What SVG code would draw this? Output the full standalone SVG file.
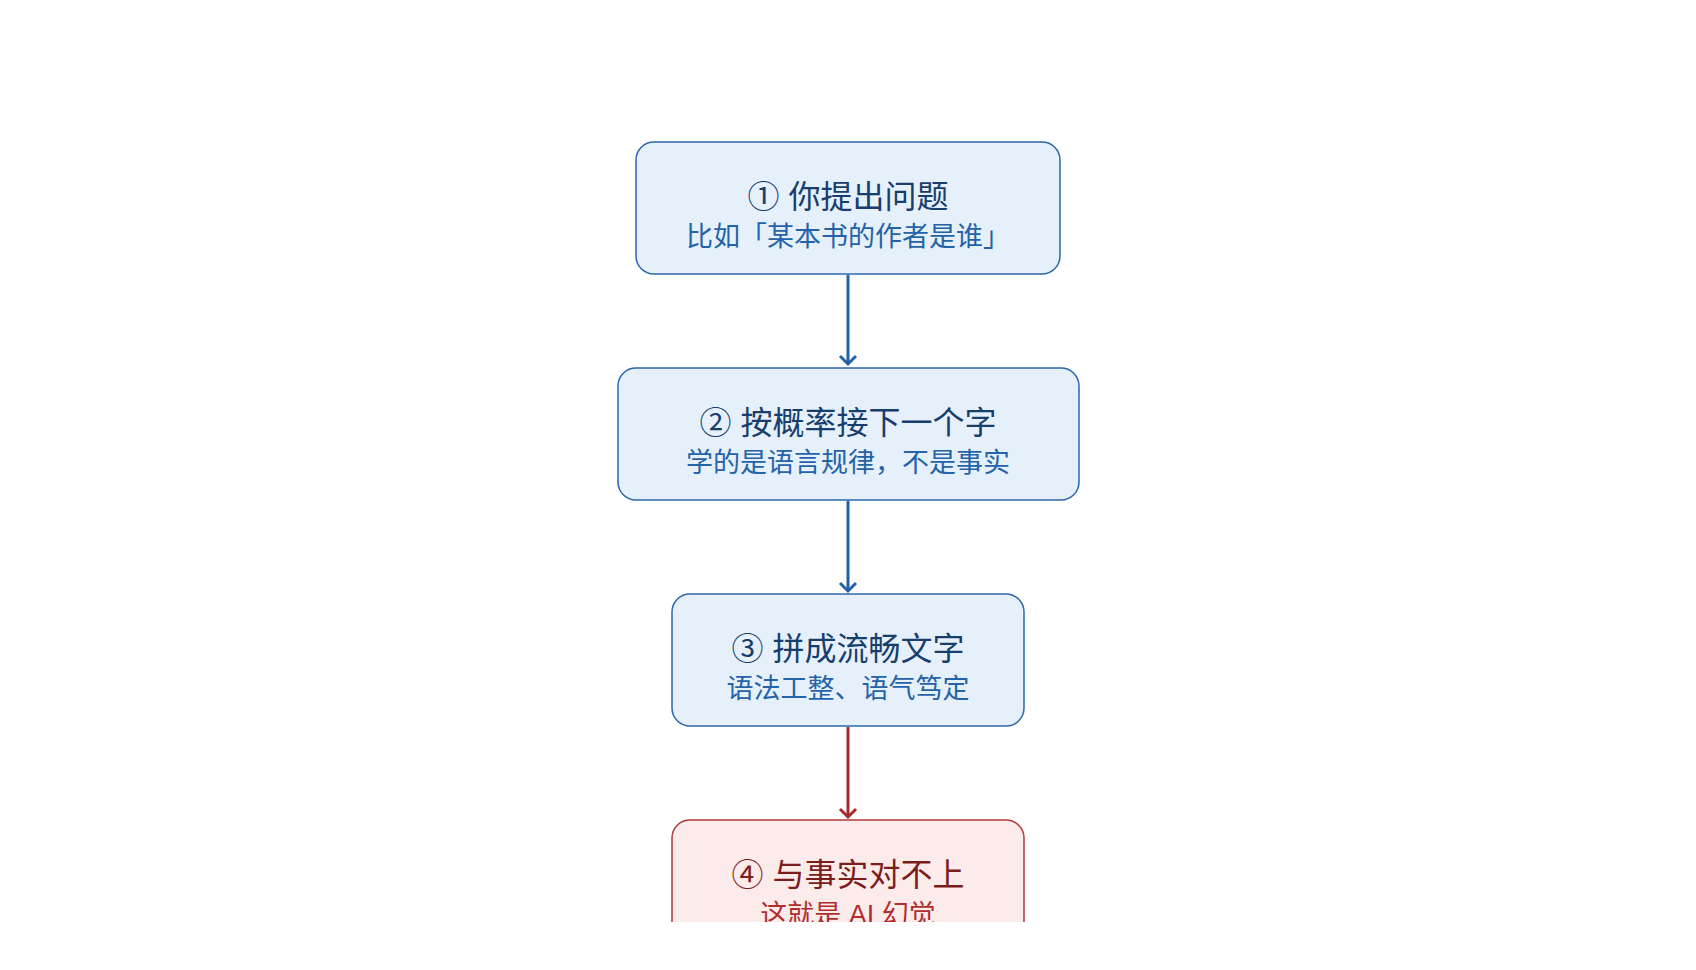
<svg xmlns="http://www.w3.org/2000/svg" width="1696" height="970" viewBox="0 0 1696 970">
<style>
.b rect{fill:#e6f0fa;stroke:#2b67ad;stroke-width:1.5}
.r rect{fill:#fcebeb;stroke:#b03b3b;stroke-width:1.5}
text{font-family:"Liberation Sans","Noto Sans CJK SC",sans-serif;text-anchor:middle}
.t{font-size:32px}.s{font-size:27px}
.b .t{fill:#173e6d}.b .s{fill:#2563a8}
.r .t{fill:#7c1d1d}.r .s{fill:#b02e2e}
.cb{stroke:#2361a6;stroke-width:3;fill:none}
.cr{stroke:#a8282b;stroke-width:3;fill:none}
</style>
<defs>
<clipPath id="c"><rect x="0" y="0" width="1696" height="922"/></clipPath>
<marker id="ab" markerWidth="20" markerHeight="20" refX="10" refY="10" markerUnits="userSpaceOnUse" orient="auto"><path d="M2,2 L10,10 L2,18" fill="none" stroke="#2361a6" stroke-width="3"/></marker>
<marker id="ar" markerWidth="20" markerHeight="20" refX="10" refY="10" markerUnits="userSpaceOnUse" orient="auto"><path d="M2,2 L10,10 L2,18" fill="none" stroke="#a8282b" stroke-width="3"/></marker>
</defs>
<rect width="1696" height="970" fill="#fff"/>
<g clip-path="url(#c)">
<g id="connectors">
<line class="cb" x1="848" y1="275" x2="848" y2="364" marker-end="url(#ab)"/>
<line class="cb" x1="848" y1="501" x2="848" y2="591" marker-end="url(#ab)"/>
<line class="cr" x1="848" y1="727" x2="848" y2="817" marker-end="url(#ar)"/>
</g>
<g id="n1" class="b"><rect x="636" y="142" width="424" height="132" rx="18"/><text class="t" x="848" y="208">① 你提出问题</text><text class="s" x="848" y="246">比如「某本书的作者是谁」</text></g>
<g id="n2" class="b"><rect x="618" y="368" width="461" height="132" rx="18"/><text class="t" x="848" y="434">② 按概率接下一个字</text><text class="s" x="848" y="472">学的是语言规律，不是事实</text></g>
<g id="n3" class="b"><rect x="672" y="594" width="352" height="132" rx="18"/><text class="t" x="848" y="660">③ 拼成流畅文字</text><text class="s" x="848" y="698">语法工整、语气笃定</text></g>
<g id="n4" class="r"><rect x="672" y="820" width="352" height="132" rx="18"/><text class="t" x="848" y="886">④ 与事实对不上</text><text class="s" x="848" y="924">这就是 AI 幻觉</text></g>
</g>
</svg>
